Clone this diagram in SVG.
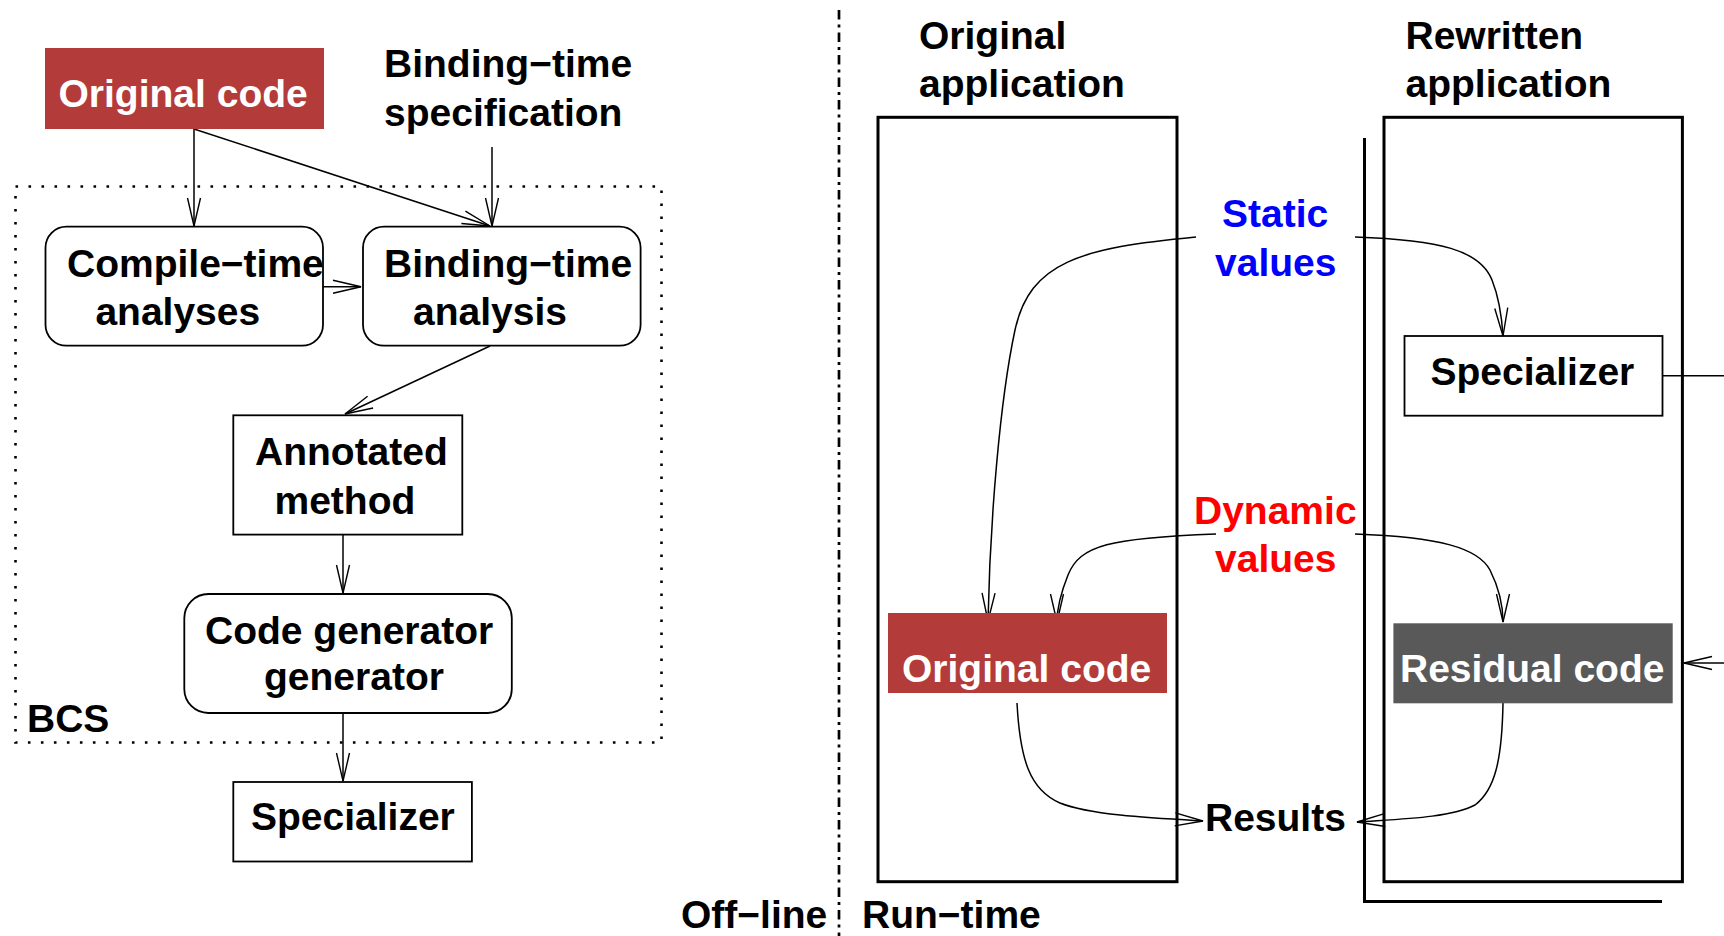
<svg xmlns="http://www.w3.org/2000/svg" width="1724" height="936" viewBox="0 0 1724 936">
<style>
text{font-family:"Liberation Sans",Arial,sans-serif;font-weight:bold;font-size:39px;fill:#000}
.w{fill:#fff}
.blue{fill:#0000ff}
.red{fill:#ff0000}
.box{fill:#fff;stroke:#000;stroke-width:1.8}
.app{fill:none;stroke:#000;stroke-width:3}
.con{fill:none;stroke:#000;stroke-width:1.5;marker-end:url(#a)}
.ln{fill:none;stroke:#000;stroke-width:1.5}
</style>
<defs>
<marker id="a" viewBox="-30 -8 32 16" refX="0" refY="0" markerWidth="32" markerHeight="16" orient="auto" markerUnits="userSpaceOnUse" overflow="visible">
<path d="M-28,-6.5 L0,0 L-28,6.5" fill="none" stroke="#000" stroke-width="1.4"/>
</marker>
</defs>
<rect width="1724" height="936" fill="#fff"/>

<g id="bcs">
<rect x="15.5" y="186.5" width="646" height="556" fill="none" stroke="#000" stroke-width="2.6" stroke-dasharray="2.6 10.4"/>
<text x="27" y="732">BCS</text>
</g>

<g id="divider">
<line x1="839" y1="10" x2="839" y2="936" stroke="#000" stroke-width="2.7" stroke-dasharray="9.5 5 3 5"/>
<text x="681" y="928">Off−line</text>
<text x="862" y="928">Run−time</text>
</g>

<g id="connectors">
<path class="con" d="M194 129 V226"/>
<path class="con" d="M194 129 L490 226"/>
<path class="con" d="M492 147 V226"/>
<path class="con" d="M323 286.7 H361"/>
<path class="con" d="M490 346 L345 414"/>
<path class="con" d="M343 534.6 V593"/>
<path class="con" d="M343 713 V781"/>
<path class="con" d="M1196 237 C1080 248 1030 262 1015 330 C1000 400 990 520 988 621"/>
<path class="con" d="M1355 237 C1440 240 1480 250 1492 280 C1500 300 1502 320 1503 336"/>
<path class="con" d="M1216 534 C1110 538 1080 545 1068 575 C1060 595 1057 610 1057 622"/>
<path class="con" d="M1355 534 C1440 537 1478 548 1490 570 C1500 590 1503 605 1503 622"/>
<path class="con" d="M1017 703 C1020 760 1030 790 1060 803 C1090 815 1150 818 1203 821"/>
<path class="con" d="M1503 703 C1502 760 1495 790 1475 805 C1450 818 1400 819 1357 822"/>
<path class="ln" d="M1662 375.7 H1724"/>
<path class="con" d="M1724 663 H1684"/>
</g>

<g id="original-code-left">
<rect x="45" y="48" width="279" height="81" fill="#b33b3a"/>
<text class="w" x="58.5" y="107">Original code</text>
</g>

<g id="bt-spec">
<text x="384" y="77">Binding−time</text>
<text x="384" y="126">specification</text>
</g>

<g id="compile-time">
<rect class="box" x="45.5" y="226.7" width="277.5" height="119" rx="21"/>
<text x="67" y="277">Compile−time</text>
<text x="95.4" y="325">analyses</text>
</g>

<g id="bt-analysis">
<rect class="box" x="363" y="226.7" width="277.6" height="119" rx="21"/>
<text x="384" y="277">Binding−time</text>
<text x="413" y="325">analysis</text>
</g>

<g id="annotated">
<rect class="box" x="233.3" y="415.3" width="229" height="119.3"/>
<text x="255" y="465">Annotated</text>
<text x="274.5" y="514">method</text>
</g>

<g id="cgg">
<rect class="box" x="184.3" y="594" width="327.5" height="119" rx="24"/>
<text x="205" y="644">Code generator</text>
<text x="264" y="690">generator</text>
</g>

<g id="specializer-left">
<rect class="box" x="233.3" y="782" width="238.6" height="79.5"/>
<text x="251" y="830">Specializer</text>
</g>

<g id="original-app">
<rect class="app" x="878" y="117.3" width="299" height="764.4"/>
<text x="919" y="48.5">Original</text>
<text x="919" y="97">application</text>
</g>

<g id="original-code-right">
<rect x="888" y="613" width="279" height="80" fill="#b33b3a"/>
<text class="w" x="902" y="682">Original code</text>
</g>

<g id="rewritten-app">
<path class="app" d="M1364.5 138 V901.5 H1662"/>
<rect class="app" x="1384" y="117.3" width="298.4" height="764.4"/>
<text x="1405.5" y="49">Rewritten</text>
<text x="1405.5" y="97">application</text>
</g>

<g id="specializer-right">
<rect class="box" x="1404.5" y="336" width="258" height="79.7"/>
<text x="1430.5" y="385">Specializer</text>
</g>

<g id="residual">
<rect x="1393.4" y="623.3" width="279.3" height="80" fill="#595959"/>
<text class="w" x="1400" y="682">Residual code</text>
</g>

<g id="static-values">
<text class="blue" x="1222" y="227">Static</text>
<text class="blue" x="1215" y="276">values</text>
</g>

<g id="dynamic-values">
<text class="red" x="1194" y="524">Dynamic</text>
<text class="red" x="1215" y="572">values</text>
</g>

<g id="results">
<text x="1205" y="831">Results</text>
</g>
</svg>
